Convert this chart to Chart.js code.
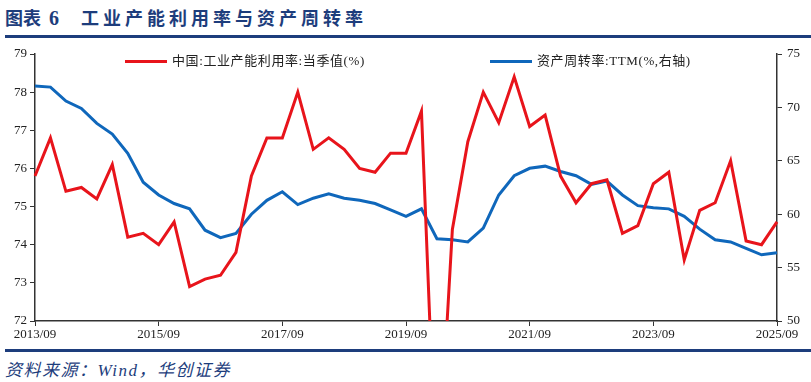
<!DOCTYPE html>
<html>
<head>
<meta charset="utf-8">
<script src="https://cdn.jsdelivr.net/npm/chart.js@4.4.1/dist/chart.umd.min.js"></script>
<style>
    body { margin: 0; width: 811px; height: 382px; background: #fff; position: relative; overflow: hidden; }
    .title { position: absolute; left: 5px; top: 4px; font-family: "Noto Sans CJK SC", sans-serif; font-weight: bold; font-size: 18px; color: #1d3d7c; white-space: nowrap; }
    .title .num { font-family: "Liberation Serif", serif; font-size: 20px; margin-left: 8px; }
    .title .txt { margin-left: 22px; letter-spacing: 4px; }
    .rule { position: absolute; left: 5px; right: 0; height: 3px; background: #1d3d7c; }
    .source { position: absolute; left: 5px; top: 356px; font-family: "Liberation Serif", "Noto Sans CJK SC", serif; font-style: italic; font-size: 17px; letter-spacing: 1.5px; color: #1d3d7c; }
    .chart-box { position: absolute; left: 0; top: 40px; width: 811px; height: 305px; }
    .legend { position: absolute; top: 50px; font-family: "Liberation Serif", "Noto Sans CJK SC", serif; font-size: 13px; letter-spacing: 0.6px; color: #222; white-space: nowrap; }
    .legend span.swatch { display: inline-block; width: 42px; height: 3px; vertical-align: middle; margin-right: 5px; position: relative; top: -1px; }
</style>
</head>
<body>
<div class="title">图表<span class="num">6</span><span class="txt">工业产能利用率与资产周转率</span></div>
<div class="rule" style="top: 35px;"></div>
<div class="chart-box"><canvas id="chart" width="811" height="305"></canvas></div>
<div class="legend" style="left: 125px;"><span class="swatch" style="background:#e8141b;"></span>中国:工业产能利用率:当季值(%)</div>
<div class="legend" style="left: 490px;"><span class="swatch" style="background:#0f67bb;"></span>资产周转率:TTM(%,右轴)</div>
<div class="rule" style="top: 349px;"></div>
<div class="source">资料来源：Wind，华创证券</div>

<script>
// quarterly, 2013/09 .. 2025/09
const quarters = [];
for (let y = 2013; y <= 2025; y++) {
    ['03', '06', '09', '12'].forEach(m => {
        const key = y + '/' + m;
        if (key >= '2013/09' && key <= '2025/09') quarters.push(key);
    });
}

// 中国:工业产能利用率:当季值(%)
const utilization = [
    75.8, 76.8, 75.4, 75.5, 75.2, 76.1, 74.2, 74.3, 74.0, 74.6,
    72.9, 73.1, 73.2, 73.8, 75.8, 76.8, 76.8, 78.0, 76.5, 76.8,
    76.5, 76.0, 75.9, 76.4, 76.4, 77.5, 67.3, 74.4, 76.7, 78.0,
    77.2, 78.4, 77.1, 77.4, 75.8, 75.1, 75.6, 75.7, 74.3, 74.5,
    75.6, 75.9, 73.6, 74.9, 75.1, 76.2, 74.1, 74.0, 74.6
];

// 资产周转率:TTM(%, 右轴)
const turnover = [
    72.0, 71.9, 70.6, 69.9, 68.5, 67.5, 65.7, 63.0, 61.8, 61.0,
    60.5, 58.5, 57.8, 58.2, 60.0, 61.3, 62.1, 60.9, 61.5, 61.9,
    61.5, 61.3, 61.0, 60.4, 59.8, 60.5, 57.7, 57.6, 57.4, 58.7,
    61.8, 63.6, 64.3, 64.5, 64.0, 63.6, 62.8, 63.1, 61.8, 60.8,
    60.6, 60.5, 59.8, 58.6, 57.6, 57.4, 56.8, 56.2, 56.4
];

const tickFont = { family: '"Liberation Serif", serif', size: 13 };
const axisColor = '#333';

new Chart(document.getElementById('chart'), {
    type: 'line',
    data: {
        labels: quarters,
        datasets: [{
            label: '中国:工业产能利用率:当季值(%)',
            data: utilization,
            borderColor: '#e8141b',
            borderWidth: 3,
            pointRadius: 0,
            tension: 0,
            yAxisID: 'y'
        }, {
            label: '资产周转率:TTM(%,右轴)',
            data: turnover,
            borderColor: '#0f67bb',
            borderWidth: 3,
            pointRadius: 0,
            tension: 0,
            yAxisID: 'y1'
        }]
    },
    options: {
        responsive: false,
        animation: false,
        layout: { padding: { top: 14, left: 0, right: 0, bottom: 0 } },
        plugins: {
            legend: { display: false },
            tooltip: { enabled: false }
        },
        scales: {
            x: {
                offset: false,
                grid: { drawOnChartArea: false, color: axisColor, tickLength: 5 },
                border: { color: axisColor, width: 1.5 },
                ticks: {
                    autoSkip: false,
                    maxRotation: 0,
                    color: '#222',
                    font: tickFont,
                    padding: 1,
                    callback: function(value, index) {
                        return index % 8 === 0 ? quarters[index] : null;
                    }
                },
                afterFit: function(scale) { scale.height = 24; }
            },
            y: {
                position: 'left',
                min: 72,
                max: 79,
                grid: { drawOnChartArea: false, color: axisColor, tickLength: 5 },
                border: { color: axisColor, width: 1.5 },
                ticks: { stepSize: 1, color: '#222', font: tickFont, padding: 3 },
                afterFit: function(scale) { scale.width = 35; }
            },
            y1: {
                position: 'right',
                min: 50,
                max: 75,
                grid: { drawOnChartArea: false, color: axisColor, tickLength: 5 },
                border: { color: axisColor, width: 1.5 },
                ticks: { stepSize: 5, color: '#222', font: tickFont, padding: 5 },
                afterFit: function(scale) { scale.width = 34; }
            }
        }
    }
});
</script>
</body>
</html>
